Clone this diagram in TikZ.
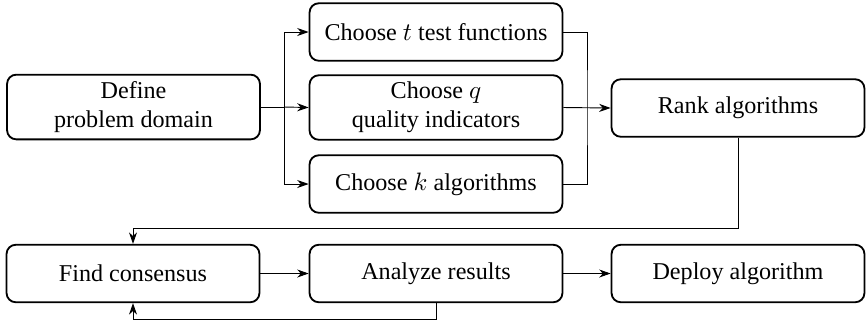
\documentclass[tikz,border=0pt]{standalone}
\usepackage{fontspec}
\setmainfont{Liberation Serif}
\usetikzlibrary{arrows.meta}

\begin{document}
\begin{tikzpicture}[
  x=0.435pt, y=-0.435pt,
  every node/.style = {shape=rectangle, rounded corners, draw, thick, align=center,
                       font=\fontsize{10.5pt}{12.5pt}\selectfont,
                       minimum width=110pt, minimum height=25pt, inner sep=3pt},
  link/.style = {thin, -{Stealth[length=5pt, width=3.5pt]}}
]
  \useasboundingbox (0,0) rectangle (866,322);
  \node (define)  at (133.5,107) {Define\\problem domain};
  \node (tests)   at (436,32)    {Choose $t$ test functions};
  \node (quality) at (436,107.5) {Choose $q$\\quality indicators};
  \node (algos)   at (436,184)   {Choose $k$ algorithms};
  \node (rank)    at (738,108)   {Rank algorithms};
  \node (find)    at (133,273.5) {Find consensus};
  \node (analyze) at (436,273.5) {Analyze results};
  \node (deploy)  at (738,273.5) {Deploy algorithm};

  \coordinate (split) at (284,107);
  \coordinate (merge) at (587,107);
  \coordinate (down)  at (133,228);
  \coordinate (back)  at (133,319);

  \draw[thin] (define.east) -- (split);
  \draw[link] (split) |- (tests.west);
  \draw[link] (split) -- (quality.west);
  \draw[link] (split) |- (algos.west);
  \draw[thin] (tests.east) -| (merge) |- (algos.east);
  \draw[link] (quality.east) -- (rank.west);
  \draw[link] (rank.south) |- (down) -- (find.north);
  \draw[link] (find) -- (analyze);
  \draw[link] (analyze) -- (deploy);
  \draw[link] (analyze.south) |- (back) -- (find.south);
\end{tikzpicture}
\end{document}
